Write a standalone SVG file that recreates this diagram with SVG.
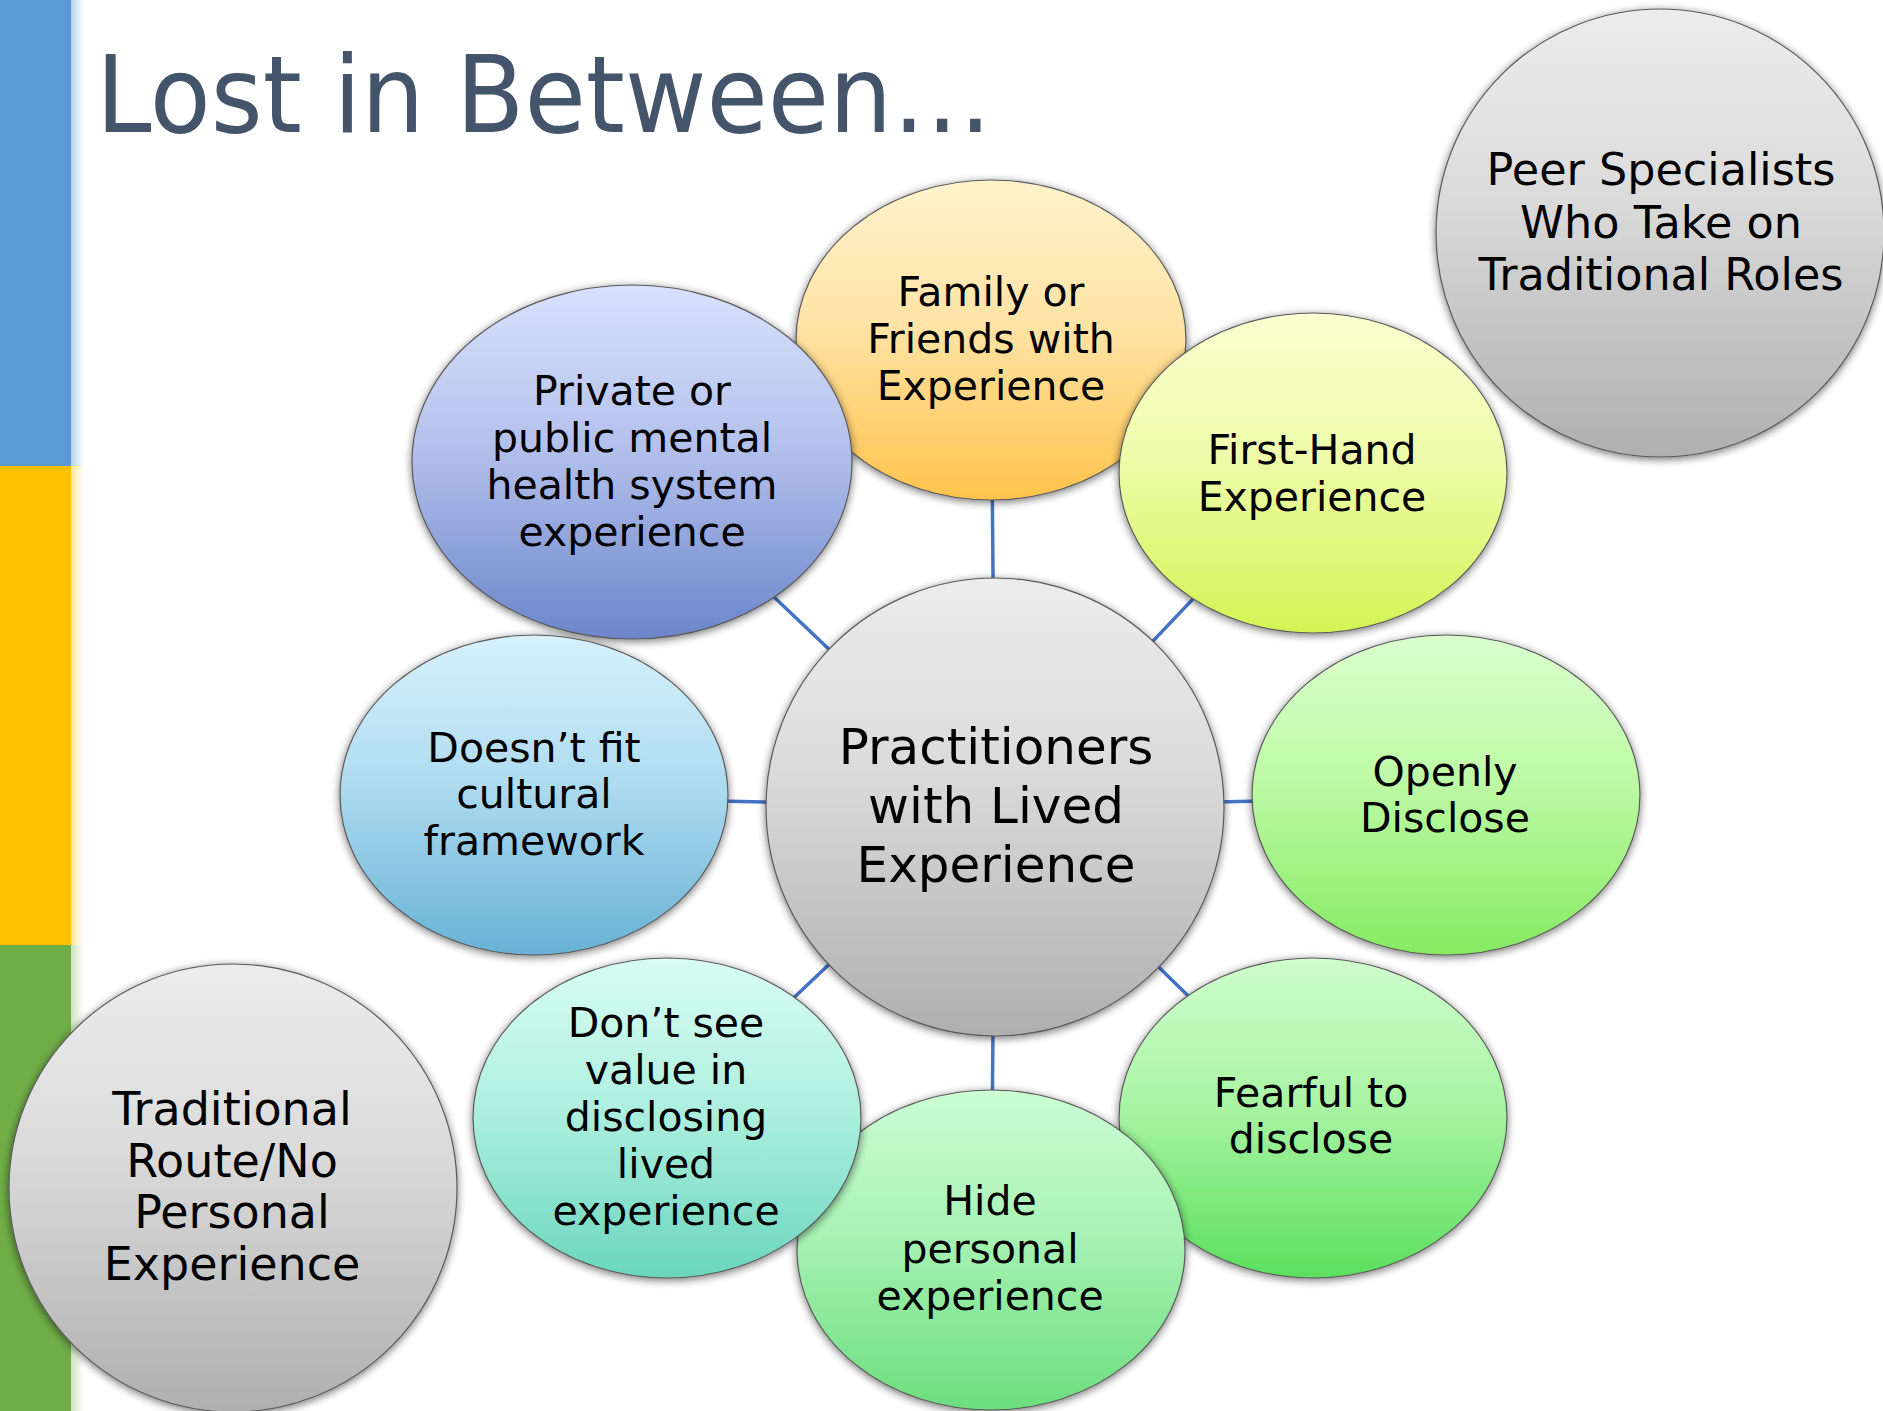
<svg xmlns="http://www.w3.org/2000/svg" width="1883" height="1411" viewBox="0 0 1883 1411">
  <style>
    .node { stroke: #5a5a5a; stroke-width: 1.2; filter: url(#shadow); }
    .lbl { font-family: "DejaVu Sans", "Liberation Sans", sans-serif; font-size: 41px; fill: #000; text-anchor: middle; }
    .big { font-size: 46px; }
    .hub { font-size: 50px; }
    .title { font-family: "DejaVu Sans", "Liberation Sans", sans-serif; font-size: 107px; fill: #44546A; }
    .link { stroke: #4472C4; stroke-width: 3.5; fill: none; }
  </style>
  <defs>
    <filter id="shadow" x="-10%" y="-10%" width="120%" height="125%">
      <feGaussianBlur in="SourceAlpha" stdDeviation="4"/>
      <feOffset dx="0" dy="2" result="b"/>
      <feComponentTransfer><feFuncA type="linear" slope="0.55"/></feComponentTransfer>
      <feMerge><feMergeNode/><feMergeNode in="SourceGraphic"/></feMerge>
    </filter>
    <linearGradient id="gGray" x1="0" y1="0" x2="0" y2="1">
      <stop offset="0" stop-color="#ECECEC"/><stop offset="0.4" stop-color="#DCDCDC"/><stop offset="1" stop-color="#AFAFAF"/>
    </linearGradient>
    <linearGradient id="gPrivate" x1="0" y1="0" x2="0" y2="1">
      <stop offset="0" stop-color="#D8E1FC"/><stop offset="0.45" stop-color="#B4C1EC"/><stop offset="1" stop-color="#6C86CA"/>
    </linearGradient>
    <linearGradient id="gFamily" x1="0" y1="0" x2="0" y2="1">
      <stop offset="0" stop-color="#FFF2CC"/><stop offset="0.45" stop-color="#FFE3A6"/><stop offset="1" stop-color="#FFC34C"/>
    </linearGradient>
    <linearGradient id="gFirst" x1="0" y1="0" x2="0" y2="1">
      <stop offset="0" stop-color="#FAFFCF"/><stop offset="0.45" stop-color="#EEFBAA"/><stop offset="1" stop-color="#D3F455"/>
    </linearGradient>
    <linearGradient id="gCulture" x1="0" y1="0" x2="0" y2="1">
      <stop offset="0" stop-color="#D6F1FC"/><stop offset="0.45" stop-color="#B0DCF0"/><stop offset="1" stop-color="#68B2D5"/>
    </linearGradient>
    <linearGradient id="gOpen" x1="0" y1="0" x2="0" y2="1">
      <stop offset="0" stop-color="#DAFFCE"/><stop offset="0.45" stop-color="#BEFAA6"/><stop offset="1" stop-color="#86EA62"/>
    </linearGradient>
    <linearGradient id="gFear" x1="0" y1="0" x2="0" y2="1">
      <stop offset="0" stop-color="#CFFDCD"/><stop offset="0.45" stop-color="#AAF4A5"/><stop offset="1" stop-color="#5CDF5E"/>
    </linearGradient>
    <linearGradient id="gHide" x1="0" y1="0" x2="0" y2="1">
      <stop offset="0" stop-color="#CCFDD4"/><stop offset="0.45" stop-color="#A8F2B4"/><stop offset="1" stop-color="#6CDE7E"/>
    </linearGradient>
    <linearGradient id="gValue" x1="0" y1="0" x2="0" y2="1">
      <stop offset="0" stop-color="#D8FDF3"/><stop offset="0.45" stop-color="#B0F0E0"/><stop offset="1" stop-color="#6BD6BE"/>
    </linearGradient>
    <linearGradient id="fadeBlue" x1="0" y1="0" x2="1" y2="0">
      <stop offset="0" stop-color="#5B9BD5" stop-opacity="0.45"/><stop offset="1" stop-color="#5B9BD5" stop-opacity="0"/>
    </linearGradient>
    <linearGradient id="fadeOrange" x1="0" y1="0" x2="1" y2="0">
      <stop offset="0" stop-color="#FFC000" stop-opacity="0.4"/><stop offset="1" stop-color="#FFC000" stop-opacity="0"/>
    </linearGradient>
    <linearGradient id="fadeGreen" x1="0" y1="0" x2="1" y2="0">
      <stop offset="0" stop-color="#70AD47" stop-opacity="0.35"/><stop offset="1" stop-color="#70AD47" stop-opacity="0"/>
    </linearGradient>
  </defs>

  <rect width="1883" height="1411" fill="#FFFFFF"/>

  <!-- side colour bars -->
  <g id="sidebar">
    <rect x="0" y="0" width="71" height="466" fill="#5B9BD5"/>
    <rect x="71" y="0" width="13" height="466" fill="url(#fadeBlue)"/>
    <rect x="0" y="466" width="71" height="479" fill="#FFC000"/>
    <rect x="71" y="466" width="13" height="479" fill="url(#fadeOrange)"/>
    <rect x="0" y="945" width="71" height="466" fill="#70AD47"/>
    <rect x="71" y="945" width="13" height="466" fill="url(#fadeGreen)"/>
  </g>

  <text id="title" class="title" x="96" y="132" textLength="896" lengthAdjust="spacingAndGlyphs">Lost in Between…</text>

  <!-- spokes from the hub -->
  <g id="connectors">
    <line class="link" x1="995" y1="807" x2="991" y2="340"/>
    <line class="link" x1="995" y1="807" x2="632" y2="462"/>
    <line class="link" x1="995" y1="807" x2="1313" y2="473"/>
    <line class="link" x1="995" y1="807" x2="534" y2="797"/>
    <line class="link" x1="995" y1="807" x2="1446" y2="797"/>
    <line class="link" x1="995" y1="807" x2="1313" y2="1118"/>
    <line class="link" x1="995" y1="807" x2="991" y2="1250"/>
    <line class="link" x1="995" y1="807" x2="667" y2="1118"/>
  </g>

  <g id="family">
    <ellipse class="node" cx="991" cy="340" rx="195" ry="160" fill="url(#gFamily)"/>
    <text class="lbl" x="991"><tspan x="991" y="306">Family or</tspan><tspan x="991" y="353">Friends with</tspan><tspan x="991" y="400">Experience</tspan></text>
  </g>

  <g id="private">
    <ellipse class="node" cx="632" cy="462" rx="220" ry="177" fill="url(#gPrivate)"/>
    <text class="lbl" x="632"><tspan x="632" y="405">Private or</tspan><tspan x="632" y="452">public mental</tspan><tspan x="632" y="499">health system</tspan><tspan x="632" y="546">experience</tspan></text>
  </g>

  <g id="first-hand">
    <ellipse class="node" cx="1313" cy="473" rx="194" ry="160" fill="url(#gFirst)"/>
    <text class="lbl" x="1312"><tspan x="1312" y="464">First-Hand</tspan><tspan x="1312" y="511">Experience</tspan></text>
  </g>

  <g id="cultural">
    <ellipse class="node" cx="534" cy="795" rx="194" ry="160" fill="url(#gCulture)"/>
    <text class="lbl" x="534"><tspan x="534" y="762">Doesn’t fit</tspan><tspan x="534" y="808">cultural</tspan><tspan x="534" y="855">framework</tspan></text>
  </g>

  <g id="openly">
    <ellipse class="node" cx="1446" cy="795" rx="194" ry="160" fill="url(#gOpen)"/>
    <text class="lbl" x="1445"><tspan x="1445" y="786">Openly</tspan><tspan x="1445" y="832">Disclose</tspan></text>
  </g>

  <g id="fearful">
    <ellipse class="node" cx="1313" cy="1118" rx="194" ry="160" fill="url(#gFear)"/>
    <text class="lbl" x="1311"><tspan x="1311" y="1107">Fearful to</tspan><tspan x="1311" y="1153">disclose</tspan></text>
  </g>

  <g id="hide">
    <ellipse class="node" cx="991" cy="1250" rx="194" ry="160" fill="url(#gHide)"/>
    <text class="lbl" x="990"><tspan x="990" y="1215">Hide</tspan><tspan x="990" y="1263">personal</tspan><tspan x="990" y="1310">experience</tspan></text>
  </g>

  <g id="no-value">
    <ellipse class="node" cx="667" cy="1118" rx="194" ry="160" fill="url(#gValue)"/>
    <text class="lbl" x="666"><tspan x="666" y="1037">Don’t see</tspan><tspan x="666" y="1084">value in</tspan><tspan x="666" y="1131">disclosing</tspan><tspan x="666" y="1178">lived</tspan><tspan x="666" y="1225">experience</tspan></text>
  </g>

  <g id="hub">
    <circle class="node" cx="995" cy="807" r="229" fill="url(#gGray)"/>
    <text class="lbl hub" x="996"><tspan x="996" y="764">Practitioners</tspan><tspan x="996" y="823">with Lived</tspan><tspan x="996" y="882">Experience</tspan></text>
  </g>

  <g id="peer-specialists">
    <circle class="node" cx="1660" cy="233" r="224" fill="url(#gGray)"/>
    <text class="lbl big" x="1661" style="font-size:44.5px"><tspan x="1661" y="185">Peer Specialists</tspan><tspan x="1661" y="238">Who Take on</tspan><tspan x="1661" y="290">Traditional Roles</tspan></text>
  </g>

  <g id="traditional-route">
    <circle class="node" cx="233" cy="1188" r="224" fill="url(#gGray)"/>
    <text class="lbl big" x="232"><tspan x="232" y="1125">Traditional</tspan><tspan x="232" y="1177">Route/No</tspan><tspan x="232" y="1228">Personal</tspan><tspan x="232" y="1280">Experience</tspan></text>
  </g>
</svg>
